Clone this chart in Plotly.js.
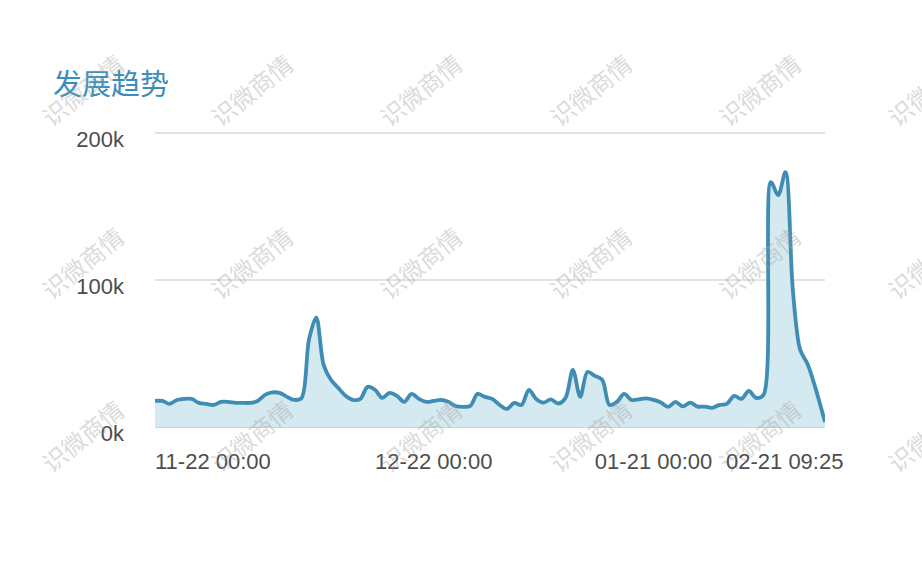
<!DOCTYPE html>
<html>
<head>
<meta charset="utf-8">
<script src="https://cdn.plot.ly/plotly-3.0.1.min.js"></script>
<style>
  html, body { margin: 0; padding: 0; background: #fff; }
  #chart { width: 922px; height: 570px; }
</style>
</head>
<body>
<div id="chart"></div>
<script>
// ---- data (values in thousands) ----
const startDate = '2023-11-22';
const lastStamp = '2024-02-21 09:25';
const values = [
  17.7, 17.7, 15.7, 18.4, 19.1, 19.1, 16.4, 15.7, 15.0, 17.1,
  17.1, 16.4, 16.4, 16.4, 17.7, 21.8, 23.5, 23.2, 20.5, 18.4,
  19.8, 59.4, 74.4, 42.3, 32.1, 26.6, 21.2, 18.4, 19.1, 27.3,
  25.3, 19.8, 23.2, 21.2, 17.1, 22.5, 19.1, 17.1, 17.7, 18.4,
  17.1, 14.3, 13.7, 14.3, 22.5, 20.5, 19.1, 15.0, 12.3, 16.4,
  15.0, 25.3, 19.1, 16.6, 18.8, 16.0, 19.8, 38.9, 20.5, 37.5,
  34.8, 32.1, 15.0, 17.1, 22.5, 18.4, 18.8, 19.5, 18.4, 16.7,
  13.7, 17.1, 14.0, 16.6, 13.9, 13.9, 13.0, 15.0, 15.7, 21.2,
  19.1, 24.6, 19.8, 21.8, 166.6, 157.7, 173.4, 93.5, 52.6, 43.0,
  28.0, 3.4
];
const xTickVals = ['2023-11-22', '2023-12-22', '2024-01-21'];
const xTickText = ['11-22 00:00', '12-22 00:00', '01-21 00:00'];
const lastLabel = '02-21 09:25';
const yTickVals = [0, 100, 200];
const yTickText = ['0k', '100k', '200k'];
const titleText = '发展趋势';
const watermarkText = '识微商情';

// daily timestamps, last point is the latest sample
const dates = [];
const d0 = new Date(startDate + 'T00:00:00Z');
for (let i = 0; i < values.length - 1; i++) {
  const d = new Date(d0.getTime() + i * 86400000);
  dates.push(d.toISOString().slice(0, 10));
}
dates.push(lastStamp);

// watermark grid (pixel centres -> paper coords)
const plotL = 155, plotR = 825, plotT = 130, plotB = 427;
const wmCols = [82, 251, 420, 590, 759, 928];
const wmRows = [89, 262, 435];
const annotations = [];
wmRows.forEach(py => wmCols.forEach(px => {
  annotations.push({
    xref: 'paper', yref: 'paper',
    x: (px - plotL) / (plotR - plotL),
    y: (plotB - py) / (plotB - plotT),
    text: watermarkText, showarrow: false, textangle: -39,
    xanchor: 'center', yanchor: 'middle',
    font: {family: 'Noto Sans CJK SC', size: 24, color: 'rgba(160,160,160,0.40)'}
  });
}));
annotations.push({
  xref: 'x', yref: 'y', x: lastStamp, y: 0,
  text: lastLabel, showarrow: false,
  xanchor: 'right', yanchor: 'middle', xshift: 20, yshift: -34,
  font: {family: 'Liberation Sans, Arial, sans-serif', size: 22, color: '#4d4d4d'}
});

const trace = {
  x: dates, y: values, type: 'scatter', mode: 'lines',
  line: {color: '#3f8db4', width: 3.8, shape: 'spline', smoothing: 0.9},
  fill: 'tozeroy', fillcolor: '#d5e9f0',
  hoverinfo: 'skip'
};

const layout = {
  width: 922, height: 570,
  margin: {l: plotL, r: 922 - plotR, t: plotT, b: 570 - plotB, pad: 0},
  paper_bgcolor: '#ffffff', plot_bgcolor: '#ffffff',
  showlegend: false,
  title: {
    text: titleText, xref: 'container', yref: 'container',
    x: 53 / 922, xanchor: 'left', y: 1 - 85 / 570, yanchor: 'middle',
    font: {family: 'Noto Sans CJK SC', size: 29, color: '#3d8dbb'}
  },
  xaxis: {
    type: 'date', range: [startDate, lastStamp],
    tickvals: xTickVals, ticktext: xTickText,
    ticklabelposition: 'outside right', ticklabelstandoff: 19,
    showgrid: false, zeroline: false, showline: false, ticks: '',
    tickfont: {family: 'Liberation Sans, Arial, sans-serif', size: 22, color: '#4d4d4d'},
    fixedrange: true
  },
  yaxis: {
    range: [0, 202], tickvals: yTickVals, ticktext: yTickText,
    showgrid: true, gridcolor: '#e2e2e2', gridwidth: 1.5,
    zeroline: true, zerolinecolor: '#d2d2d2', zerolinewidth: 2,
    showline: false, ticks: '', ticklabelstandoff: 30, ticklabelshift: 6,
    tickfont: {family: 'Liberation Sans, Arial, sans-serif', size: 22, color: '#4d4d4d'},
    fixedrange: true
  },
  annotations: annotations
};

Plotly.newPlot('chart', [trace], layout, {displayModeBar: false, staticPlot: true});
</script>
</body>
</html>
